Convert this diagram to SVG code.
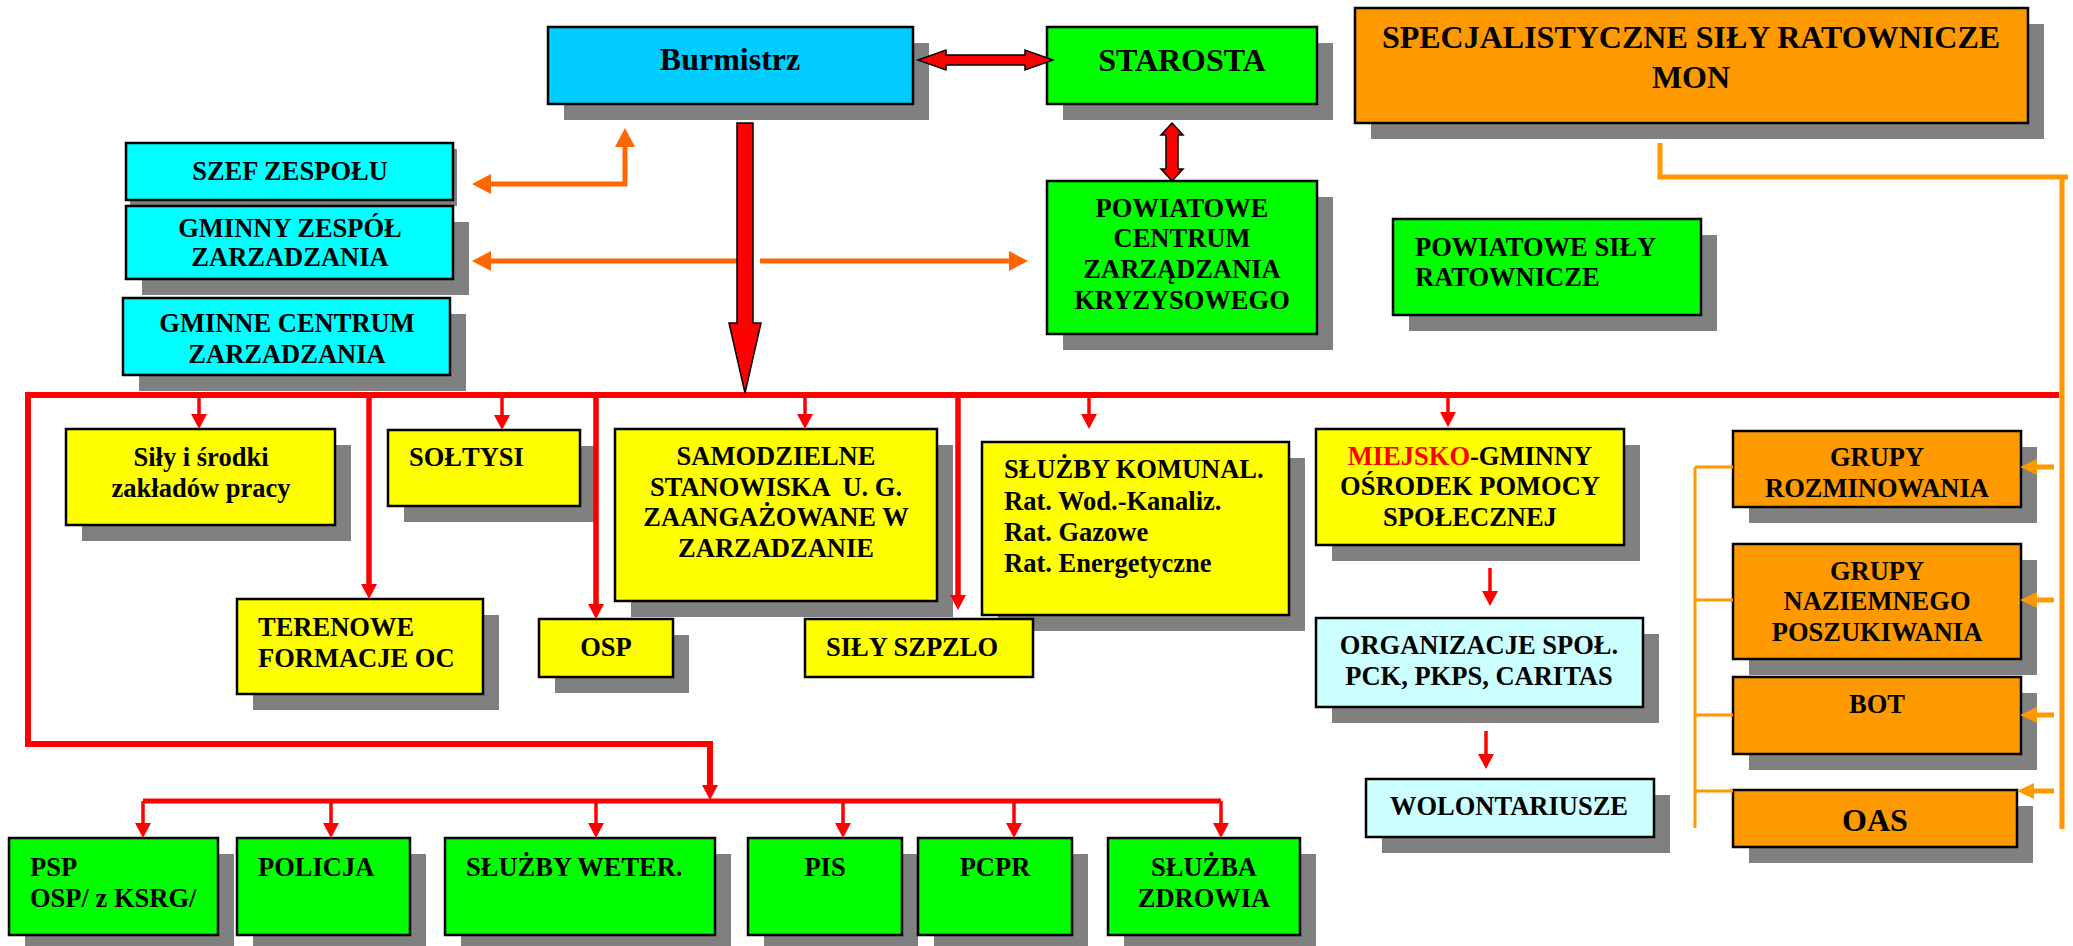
<svg xmlns="http://www.w3.org/2000/svg" width="2073" height="946" viewBox="0 0 2073 946">
<style>
.sh{fill:#808080}
.bx{stroke:#000;stroke-width:2.5}
.cb{fill:#00CCFF}.cy{fill:#00FFFF}.gr{fill:#00FF00}.ye{fill:#FFFF00}.or{fill:#FF9900}.lc{fill:#CCFFFF}
text{font-family:"Liberation Serif","Times New Roman",serif;font-weight:bold;font-size:26.5px;fill:#000}
.c{text-anchor:middle}
.big{font-size:32px}
.r{fill:none;stroke:#FF0000}
.o{fill:none;stroke:#FF6600;stroke-width:5}
.y{fill:none;stroke:#FF9900}
.ra{fill:#FF0000;stroke:#000;stroke-width:1.5;stroke-linejoin:miter}
</style>
<defs>
<marker id="rh" markerUnits="userSpaceOnUse" markerWidth="16" markerHeight="17" refX="0" refY="8" orient="auto" overflow="visible"><path d="M0,0 L15,8 L0,16 z" fill="#FF0000"/></marker>
<marker id="oh" markerUnits="userSpaceOnUse" markerWidth="20" markerHeight="21" refX="0" refY="10" orient="auto-start-reverse" overflow="visible"><path d="M0,0 L19,10 L0,20 z" fill="#FF6600"/></marker>
<marker id="yh" markerUnits="userSpaceOnUse" markerWidth="17" markerHeight="17" refX="0" refY="8" orient="auto" overflow="visible"><path d="M0,0 L17,8 L0,16 z" fill="#FF9900"/></marker>
</defs>
<rect width="2073" height="946" fill="#fff"/>

<g id="burmistrz"><rect class="sh" x="564" y="43" width="365" height="77"/><rect class="bx cb" x="548" y="27" width="365" height="77"/><text class="c big" x="730" y="70">Burmistrz</text></g>
<g id="starosta"><rect class="sh" x="1063" y="43" width="270" height="77"/><rect class="bx gr" x="1047" y="27" width="270" height="77"/><text class="c big" x="1182" y="71">STAROSTA</text></g>
<g id="specjalistyczne"><rect class="sh" x="1371" y="24" width="673" height="115"/><rect class="bx or" x="1355" y="8" width="673" height="115"/><text class="c big" x="1691" y="48">SPECJALISTYCZNE SIŁY RATOWNICZE</text><text class="c big" x="1691" y="88">MON</text></g>

<g id="szef"><rect class="sh" x="130" y="149" width="327" height="57"/><rect class="bx cy" x="126" y="143" width="327" height="57"/><text class="c" x="290" y="180">SZEF ZESPOŁU</text></g>
<g id="gzz"><rect class="sh" x="142" y="222" width="327" height="73"/><rect class="bx cy" x="126" y="206" width="327" height="73"/><text class="c" x="290" y="237">GMINNY ZESPÓŁ</text><text class="c" x="290" y="266">ZARZADZANIA</text></g>
<g id="gcz"><rect class="sh" x="139" y="314" width="327" height="77"/><rect class="bx cy" x="123" y="298" width="327" height="77"/><text class="c" x="287" y="332">GMINNE CENTRUM</text><text class="c" x="287" y="363">ZARZADZANIA</text></g>

<g id="pczk"><rect class="sh" x="1063" y="197" width="270" height="153"/><rect class="bx gr" x="1047" y="181" width="270" height="153"/><text class="c" x="1182" y="217">POWIATOWE</text><text class="c" x="1182" y="247">CENTRUM</text><text class="c" x="1182" y="278">ZARZĄDZANIA</text><text class="c" x="1182" y="309">KRYZYSOWEGO</text></g>
<g id="psr"><rect class="sh" x="1409" y="235" width="308" height="96"/><rect class="bx gr" x="1393" y="219" width="308" height="96"/><text x="1415" y="256">POWIATOWE SIŁY</text><text x="1415" y="286">RATOWNICZE</text></g>

<g id="sily"><rect class="sh" x="82" y="445" width="269" height="96"/><rect class="bx ye" x="66" y="429" width="269" height="96"/><text class="c" x="201" y="466">Siły i środki</text><text class="c" x="201" y="497">zakładów pracy</text></g>
<g id="soltysi"><rect class="sh" x="404" y="446" width="192" height="76"/><rect class="bx ye" x="388" y="430" width="192" height="76"/><text x="409" y="466">SOŁTYSI</text></g>
<g id="samodzielne"><rect class="sh" x="631" y="445" width="322" height="172"/><rect class="bx ye" x="615" y="429" width="322" height="172"/><text class="c" x="776" y="465">SAMODZIELNE</text><text class="c" x="776" y="496" xml:space="preserve">STANOWISKA  U. G.</text><text class="c" x="776" y="526">ZAANGAŻOWANE W</text><text class="c" x="776" y="557">ZARZADZANIE</text></g>
<g id="komunal"><rect class="sh" x="998" y="458" width="307" height="173"/><rect class="bx ye" x="982" y="442" width="307" height="173"/><text x="1004" y="478">SŁUŻBY KOMUNAL.</text><text x="1004" y="510">Rat. Wod.-Kanaliz.</text><text x="1004" y="541">Rat. Gazowe</text><text x="1004" y="572">Rat. Energetyczne</text></g>
<g id="mgops"><rect class="sh" x="1332" y="445" width="308" height="116"/><rect class="bx ye" x="1316" y="429" width="308" height="116"/><text class="c" x="1470" y="465"><tspan fill="#FF0000">MIEJSKO</tspan>-GMINNY</text><text class="c" x="1470" y="495">OŚRODEK POMOCY</text><text class="c" x="1470" y="526">SPOŁECZNEJ</text></g>
<g id="terenowe"><rect class="sh" x="253" y="615" width="246" height="95"/><rect class="bx ye" x="237" y="599" width="246" height="95"/><text x="258" y="636">TERENOWE</text><text x="258" y="667">FORMACJE OC</text></g>
<g id="osp"><rect class="sh" x="555" y="635" width="134" height="58"/><rect class="bx ye" x="539" y="619" width="134" height="58"/><text class="c" x="606" y="656">OSP</text></g>
<g id="szpzlo"><rect class="bx ye" x="805" y="619" width="228" height="58"/><text x="826" y="656">SIŁY SZPZLO</text></g>
<g id="organizacje"><rect class="sh" x="1332" y="634" width="327" height="89"/><rect class="bx lc" x="1316" y="618" width="327" height="89"/><text class="c" x="1479" y="654">ORGANIZACJE SPOŁ.</text><text class="c" x="1479" y="685">PCK, PKPS, CARITAS</text></g>
<g id="wolontariusze"><rect class="sh" x="1382" y="795" width="288" height="58"/><rect class="bx lc" x="1366" y="779" width="288" height="58"/><text class="c" x="1509" y="815">WOLONTARIUSZE</text></g>

<g id="rozminowania"><rect class="sh" x="1749" y="447" width="288" height="76"/><rect class="bx or" x="1733" y="431" width="288" height="76"/><text class="c" x="1877" y="466">GRUPY</text><text class="c" x="1877" y="497">ROZMINOWANIA</text></g>
<g id="naziemnego"><rect class="sh" x="1749" y="560" width="288" height="115"/><rect class="bx or" x="1733" y="544" width="288" height="115"/><text class="c" x="1877" y="580">GRUPY</text><text class="c" x="1877" y="610">NAZIEMNEGO</text><text class="c" x="1877" y="641">POSZUKIWANIA</text></g>
<g id="bot"><rect class="sh" x="1749" y="693" width="288" height="77"/><rect class="bx or" x="1733" y="677" width="288" height="77"/><text class="c" x="1877" y="713">BOT</text></g>
<g id="oas"><rect class="sh" x="1749" y="806" width="284" height="57"/><rect class="bx or" x="1733" y="790" width="284" height="57"/><text class="c big" x="1875" y="831">OAS</text></g>

<g id="psp"><rect class="sh" x="25" y="854" width="209" height="97"/><rect class="bx gr" x="9" y="838" width="209" height="97"/><text x="30" y="876">PSP</text><text x="30" y="907">OSP/ z KSRG/</text></g>
<g id="policja"><rect class="sh" x="253" y="854" width="173" height="97"/><rect class="bx gr" x="237" y="838" width="173" height="97"/><text x="258" y="876">POLICJA</text></g>
<g id="weter"><rect class="sh" x="461" y="854" width="270" height="97"/><rect class="bx gr" x="445" y="838" width="270" height="97"/><text x="466" y="876">SŁUŻBY WETER.</text></g>
<g id="pis"><rect class="sh" x="764" y="854" width="154" height="97"/><rect class="bx gr" x="748" y="838" width="154" height="97"/><text class="c" x="825" y="876">PIS</text></g>
<g id="pcpr"><rect class="sh" x="934" y="854" width="154" height="97"/><rect class="bx gr" x="918" y="838" width="154" height="97"/><text class="c" x="995" y="876">PCPR</text></g>
<g id="zdrowia"><rect class="sh" x="1124" y="854" width="192" height="97"/><rect class="bx gr" x="1108" y="838" width="192" height="97"/><text class="c" x="1204" y="876">SŁUŻBA</text><text class="c" x="1204" y="907">ZDROWIA</text></g>

<g id="connectors">
<!-- orange left arrows -->
<polyline class="o" points="491,184 625,184 625,147" marker-start="url(#oh)" marker-end="url(#oh)"/>
<path class="o" d="M491,261 H740" marker-start="url(#oh)"/>
<path class="o" d="M760,261 H1009" marker-end="url(#oh)"/>
<!-- red double arrows -->
<polygon class="ra" points="918,60 946,50 946,55 1025,55 1025,50 1053,60 1025,70 1025,65 946,65 946,70"/>
<polygon class="ra" points="1172,123 1183,135 1178,135 1178,169 1183,169 1172,181 1161,169 1166,169 1166,135 1161,135"/>
<!-- main red lines -->
<path class="r" stroke-width="6" d="M2059,395 H28 V744 H710 V785" marker-end="url(#rh)" stroke-linejoin="miter"/>
<path class="r" stroke-width="5" d="M143,801 H1221"/>
<!-- big red arrow -->
<polygon class="ra" points="737,123 753,123 753,323 761,323 745,393 729,323 737,323"/>
<!-- drops from main line -->
<g class="r" stroke-width="3.5">
<path d="M199,397 V414" marker-end="url(#rh)"/>
<path d="M502,397 V415" marker-end="url(#rh)"/>
<path d="M805,397 V414" marker-end="url(#rh)"/>
<path d="M1089,397 V414" marker-end="url(#rh)"/>
<path d="M1448,397 V412" marker-end="url(#rh)"/>
<path d="M1490,568 V591" marker-end="url(#rh)"/>
<path d="M1486,731 V754" marker-end="url(#rh)"/>
<path d="M143,801 V823" marker-end="url(#rh)"/>
<path d="M331,801 V823" marker-end="url(#rh)"/>
<path d="M596,801 V823" marker-end="url(#rh)"/>
<path d="M843,801 V823" marker-end="url(#rh)"/>
<path d="M1014,801 V823" marker-end="url(#rh)"/>
<path d="M1221,801 V823" marker-end="url(#rh)"/>
</g>
<g class="r" stroke-width="5.5">
<path d="M369,397 V584" marker-end="url(#rh)"/>
<path d="M596,397 V604" marker-end="url(#rh)"/>
<path d="M958,397 V595" marker-end="url(#rh)"/>
</g>
<!-- orange right system -->
<polyline class="y" stroke-width="5" points="1660,143 1660,177 2068,177"/>
<path class="y" stroke-width="5" d="M2062,177 V829"/>
<path class="y" stroke-width="3" d="M1695,467 V828 M1695,467 H1733 M1695,600 H1733 M1695,715 H1733 M1695,791 H1733"/>
<g class="y" stroke-width="5">
<path d="M2054,467 H2037" marker-end="url(#yh)"/>
<path d="M2054,600 H2037" marker-end="url(#yh)"/>
<path d="M2054,715 H2037" marker-end="url(#yh)"/>
<path d="M2054,791 H2034" marker-end="url(#yh)"/>
</g>
</g>
</svg>
